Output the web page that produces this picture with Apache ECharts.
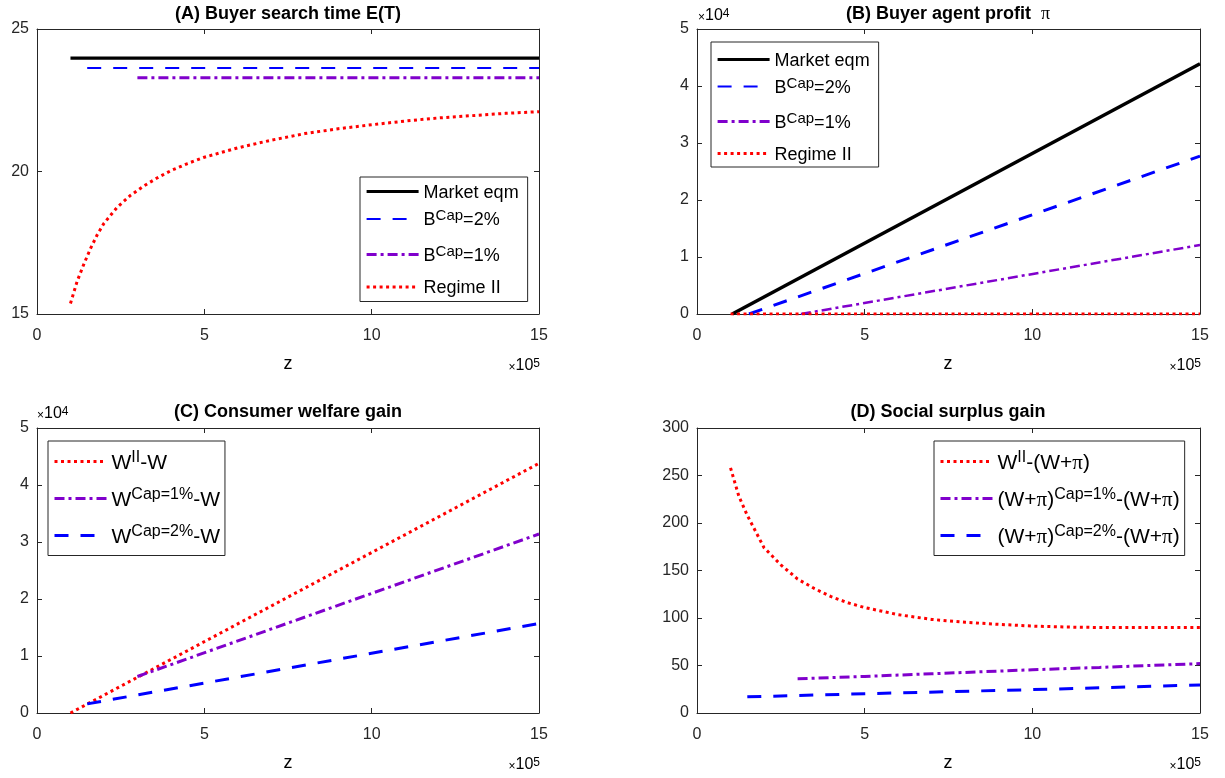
<!DOCTYPE html>
<html>
<head>
<meta charset="utf-8">
<script src="https://cdn.jsdelivr.net/npm/echarts/dist/echarts.min.js"></script>
<style>html,body{margin:0;padding:0;background:#fff}#c{width:1225px;height:778px}</style>
</head>
<body>
<div id="c"></div>
<script>
// ---------------- DATA (z in raw units; axes show ×10^5) ----------------
// Panel A: Buyer search time E(T)
const A_market_z = [1.0e5, 15e5];
const A_market   = [23.98, 23.98];
const A_cap2_z   = [1.5e5, 15e5];
const A_cap2     = [23.63, 23.63];
const A_cap1_z   = [3.0e5, 15e5];
const A_cap1     = [23.29, 23.29];
const A_regime_z = [1.0e5,1.2e5,1.4e5,1.6e5,1.8e5,2.0e5,2.4e5,2.8e5,3.2e5,3.6e5,4.0e5,4.5e5,5e5,6e5,7e5,8e5,9e5,10e5,11e5,12e5,13e5,14e5,15e5];
const A_regime   = [15.37,16.15,16.75,17.3,17.78,18.18,18.75,19.17,19.5,19.78,20.03,20.28,20.5,20.83,21.1,21.33,21.5,21.64,21.77,21.88,21.96,22.04,22.1];

// Panel B: Buyer agent profit π
const B_market_z = [1.05e5, 15e5];
const B_market   = [0, 43900];
const B_cap2_z   = [1.55e5, 15e5];
const B_cap2     = [0, 27700];
const B_cap1_z   = [3.1e5, 15e5];
const B_cap1     = [0, 12100];
const B_regime_z = [1.0e5, 15e5];
const B_regime   = [0, 0];

// Panel C: Consumer welfare gain
const C_regime_z = [1.0e5, 15e5];
const C_regime   = [0, 43800];
const C_cap1_z   = [3.0e5, 15e5];
const C_cap1     = [6400, 31400];
const C_cap2_z   = [1.5e5, 15e5];
const C_cap2     = [1600, 15700];

// Panel D: Social surplus gain
const D_regime_z = [1.0e5,1.25e5,1.5e5,1.75e5,2e5,2.5e5,3e5,3.5e5,4e5,4.5e5,5e5,6e5,7e5,8e5,9e5,10e5,11e5,12e5,13e5,14e5,15e5];
const D_regime   = [258,228,208,191,174,156,141,131,122.5,116,111,103.5,98.5,95.5,93.3,91.5,90.5,90,90,90,90];
const D_cap1_z   = [3e5, 5e5, 7e5, 10e5, 12e5, 15e5];
const D_cap1     = [36, 38.5, 41.3, 45.5, 48, 52];
const D_cap2_z   = [1.5e5, 5e5, 10e5, 15e5];
const D_cap2     = [17, 20.3, 24.6, 29.5];

// Tick settings
const X_TICKS = {min: 0, max: 15e5, interval: 5e5, scale: 1e5};
const Y_TICKS = [
  {min: 15, max: 25, interval: 5, scale: 1},
  {min: 0, max: 50000, interval: 10000, scale: 1e4},
  {min: 0, max: 50000, interval: 10000, scale: 1e4},
  {min: 0, max: 300, interval: 50, scale: 1}
];

// ---------------- STYLE / LAYOUT ----------------
const FONT = '"Liberation Sans", Arial, Helvetica, sans-serif';
const SERIF = '"Liberation Serif", "Times New Roman", serif';
const AX = '#262626';
const BLACK = '#000000', BLUE = '#0000ff', PURPLE = '#8000cc', RED = '#ff0000';
const grids = [
  {left: 37, top: 29, width: 502, height: 285},
  {left: 697, top: 29, width: 503, height: 285},
  {left: 37, top: 428, width: 502, height: 285},
  {left: 697, top: 428, width: 503, height: 285}
];

const xAxes = [], yAxes = [];
grids.forEach((g, gi) => {
  const base = {
    gridIndex: gi, type: 'value',
    axisLine: {show: true, onZero: false, lineStyle: {color: AX, width: 1}},
    axisTick: {show: true, inside: true, length: 5, lineStyle: {color: AX, width: 1}},
    splitLine: {show: false}
  };
  const xs = X_TICKS;
  xAxes.push(Object.assign({}, base, {
    position: 'bottom', min: xs.min, max: xs.max, interval: xs.interval,
    axisLabel: {show: true, showMinLabel: true, showMaxLabel: true, margin: 14, fontSize: 16, color: AX, fontFamily: FONT,
      formatter: v => String(Math.round(v / xs.scale))}
  }));
  xAxes.push(Object.assign({}, base, {
    position: 'top', min: xs.min, max: xs.max, interval: xs.interval, axisLabel: {show: false}
  }));
  const ys = Y_TICKS[gi];
  yAxes.push(Object.assign({}, base, {
    position: 'left', min: ys.min, max: ys.max, interval: ys.interval,
    axisLabel: {show: true, showMinLabel: true, showMaxLabel: true, margin: 8, fontSize: 16, color: AX, fontFamily: FONT,
      formatter: v => String(Math.round(v / ys.scale))}
  }));
  yAxes.push(Object.assign({}, base, {
    position: 'right', min: ys.min, max: ys.max, interval: ys.interval, axisLabel: {show: false}
  }));
});

const pts = (zs, ys) => zs.map((z, i) => [z, ys[i]]);
const LS = {
  solid:  (c, w) => ({color: c, width: w, type: 'solid'}),
  dash:   (c, w) => ({color: c, width: w, type: [14, 12], cap: 'butt'}),
  dashdot:(c, w) => ({color: c, width: w, type: [10, 4, 3, 4], cap: 'butt'}),
  dot:    (c, w) => ({color: c, width: w, type: [3, 3.5], cap: 'butt'})
};
function line(gi, name, zs, ys, style) {
  return {type: 'line', name: name, xAxisIndex: 2 * gi, yAxisIndex: 2 * gi,
    data: pts(zs, ys), symbol: 'none', showSymbol: false, smooth: false,
    lineStyle: style, itemStyle: {color: style.color}, emphasis: {disabled: true}, animation: false, clip: true, z: 3};
}

const NM = {
  mk: 'Market eqm', c2: 'B^Cap=2%', c1: 'B^Cap=1%', r2: 'Regime II',
  cw2: 'W^II-W', cw1: 'W^Cap=1%-W', cwc2: 'W^Cap=2%-W',
  d2: 'W^II-(W+π)', d1: '(W+π)^Cap=1%-(W+π)', dc2: '(W+π)^Cap=2%-(W+π)'
};

const styles = {
  A_mk: LS.solid(BLACK, 3.2), A_c2: LS.dash(BLUE, 2), A_c1: LS.dashdot(PURPLE, 3), A_r: LS.dot(RED, 3),
  B_mk: LS.solid(BLACK, 3.5), B_c2: LS.dash(BLUE, 3), B_c1: LS.dashdot(PURPLE, 2.5), B_r: LS.dot(RED, 3),
  C_r: LS.dot(RED, 3), C_c1: LS.dashdot(PURPLE, 3), C_c2: LS.dash(BLUE, 3),
  D_r: LS.dot(RED, 3), D_c1: LS.dashdot(PURPLE, 3), D_c2: LS.dash(BLUE, 3)
};

const series = [
  line(0, NM.mk, A_market_z, A_market, styles.A_mk),
  line(0, NM.c2, A_cap2_z, A_cap2, styles.A_c2),
  line(0, NM.c1, A_cap1_z, A_cap1, styles.A_c1),
  line(0, NM.r2, A_regime_z, A_regime, styles.A_r),
  line(1, NM.mk, B_market_z, B_market, styles.B_mk),
  line(1, NM.c2, B_cap2_z, B_cap2, styles.B_c2),
  line(1, NM.c1, B_cap1_z, B_cap1, styles.B_c1),
  line(1, NM.r2, B_regime_z, B_regime, styles.B_r),
  line(2, NM.cw2, C_regime_z, C_regime, styles.C_r),
  line(2, NM.cw1, C_cap1_z, C_cap1, styles.C_c1),
  line(2, NM.cwc2, C_cap2_z, C_cap2, styles.C_c2),
  line(3, NM.d2, D_regime_z, D_regime, styles.D_r),
  line(3, NM.d1, D_cap1_z, D_cap1, styles.D_c1),
  line(3, NM.dc2, D_cap2_z, D_cap2, styles.D_c2)
];

// legend rich text
const richAB = {
  n: {fontSize: 18, fontFamily: FONT, color: '#000', lineHeight: 21, verticalAlign: 'bottom'},
  s: {fontSize: 15, fontFamily: FONT, color: '#000', lineHeight: 15, padding: [0, 0, 14, 0], verticalAlign: 'top'}
};
const richCD = {
  n: {fontSize: 21, fontFamily: FONT, color: '#000', lineHeight: 24, verticalAlign: 'bottom'},
  p: {fontSize: 21, fontFamily: SERIF, color: '#000', lineHeight: 24, verticalAlign: 'bottom'},
  s: {fontSize: 16, fontFamily: FONT, color: '#000', lineHeight: 16, padding: [0, 0, 16, 0], verticalAlign: 'top'}
};
const LEG_TEXT = {};
LEG_TEXT[NM.mk] = '{n|Market eqm}';
LEG_TEXT[NM.c2] = '{n|B}{s|Cap}{n|=2%}';
LEG_TEXT[NM.c1] = '{n|B}{s|Cap}{n|=1%}';
LEG_TEXT[NM.r2] = '{n|Regime II}';
LEG_TEXT[NM.cw2] = '{n|W}{s|II}{n|-W}';
LEG_TEXT[NM.cw1] = '{n|W}{s|Cap=1%}{n|-W}';
LEG_TEXT[NM.cwc2] = '{n|W}{s|Cap=2%}{n|-W}';
LEG_TEXT[NM.d2] = '{n|W}{s|II}{n|-(W+}{p|π}{n|)}';
LEG_TEXT[NM.d1] = '{n|(W+}{p|π}{n|)}{s|Cap=1%}{n|-(W+}{p|π}{n|)}';
LEG_TEXT[NM.dc2] = '{n|(W+}{p|π}{n|)}{s|Cap=2%}{n|-(W+}{p|π}{n|)}';

function legend(left, top, names, rich, gap, pad) {
  return {
    show: true, type: 'plain',
    orient: 'vertical', left: left, top: top, itemWidth: 52, itemHeight: 12, itemGap: gap,
    padding: pad, borderColor: AX, borderWidth: 1, backgroundColor: '#fff', selectedMode: false,
    itemStyle: {opacity: 0, borderWidth: 0},
    lineStyle: {width: 'inherit', type: 'inherit', color: 'inherit'},
    data: names, formatter: nm => LEG_TEXT[nm] || nm, textStyle: {rich: rich}
  };
}
const legends = [
  legend(360, 177, [NM.mk, NM.c2, NM.c1, NM.r2], richAB, 6.5, [7, 9, 4, 5]),
  legend(711, 42, [NM.mk, NM.c2, NM.c1, NM.r2], richAB, 6, [10, 9, 3, 5]),
  legend(48, 441, [NM.cw2, NM.cw1, NM.cwc2], richCD, 5, [8.5, 5, 0, 5]),
  legend(934, 441, [NM.d2, NM.d1, NM.dc2], richCD, 5, [8.5, 5, 0, 5])
];

// annotation text
function txt(x, y, text, rich, align) {
  return {type: 'text', x: x, y: y, z: 10, style: {text: text, rich: rich, align: align || 'center', verticalAlign: 'middle', fill: '#000'}};
}
const richT = {
  b: {fontSize: 18, fontWeight: 'bold', fontFamily: FONT, color: '#000'},
  p: {fontSize: 18, fontFamily: SERIF, color: '#000'}
};
const richE = {
  x: {fontSize: 12, fontFamily: FONT, color: AX, lineHeight: 16, verticalAlign: 'bottom'},
  n: {fontSize: 16, fontFamily: FONT, color: AX, lineHeight: 16, verticalAlign: 'bottom'},
  s: {fontSize: 12, fontFamily: FONT, color: AX, lineHeight: 12, padding: [0, 0, 10, 0], verticalAlign: 'top'}
};
const richZ = {z: {fontSize: 18, fontFamily: FONT, color: AX}};
const graphics = [
  txt(288, 14, '{b|(A) Buyer search time E(T)}', richT),
  txt(948, 14, '{b|(B) Buyer agent profit  }{p|π}', richT),
  txt(288, 412, '{b|(C) Consumer welfare gain}', richT),
  txt(948, 412, '{b|(D) Social surplus gain}', richT),
  txt(288, 364, '{z|z}', richZ), txt(948, 364, '{z|z}', richZ),
  txt(288, 763, '{z|z}', richZ), txt(948, 763, '{z|z}', richZ),
  txt(540, 366, '{x|×}{n|10}{s|5}', richE, 'right'),
  txt(1201, 366, '{x|×}{n|10}{s|5}', richE, 'right'),
  txt(540, 765, '{x|×}{n|10}{s|5}', richE, 'right'),
  txt(1201, 765, '{x|×}{n|10}{s|5}', richE, 'right'),
  txt(698, 16, '{x|×}{n|10}{s|4}', richE, 'left'),
  txt(37, 414, '{x|×}{n|10}{s|4}', richE, 'left')
];

const chart = echarts.init(document.getElementById('c'), null, {renderer: 'canvas'});
chart.setOption({
  animation: false,
  backgroundColor: '#fff',
  grid: grids.map(g => Object.assign({containLabel: false}, g)),
  xAxis: xAxes, yAxis: yAxes,
  series: series,
  graphic: graphics
});
chart.setOption({legend: legends});
</script>
</body>
</html>
